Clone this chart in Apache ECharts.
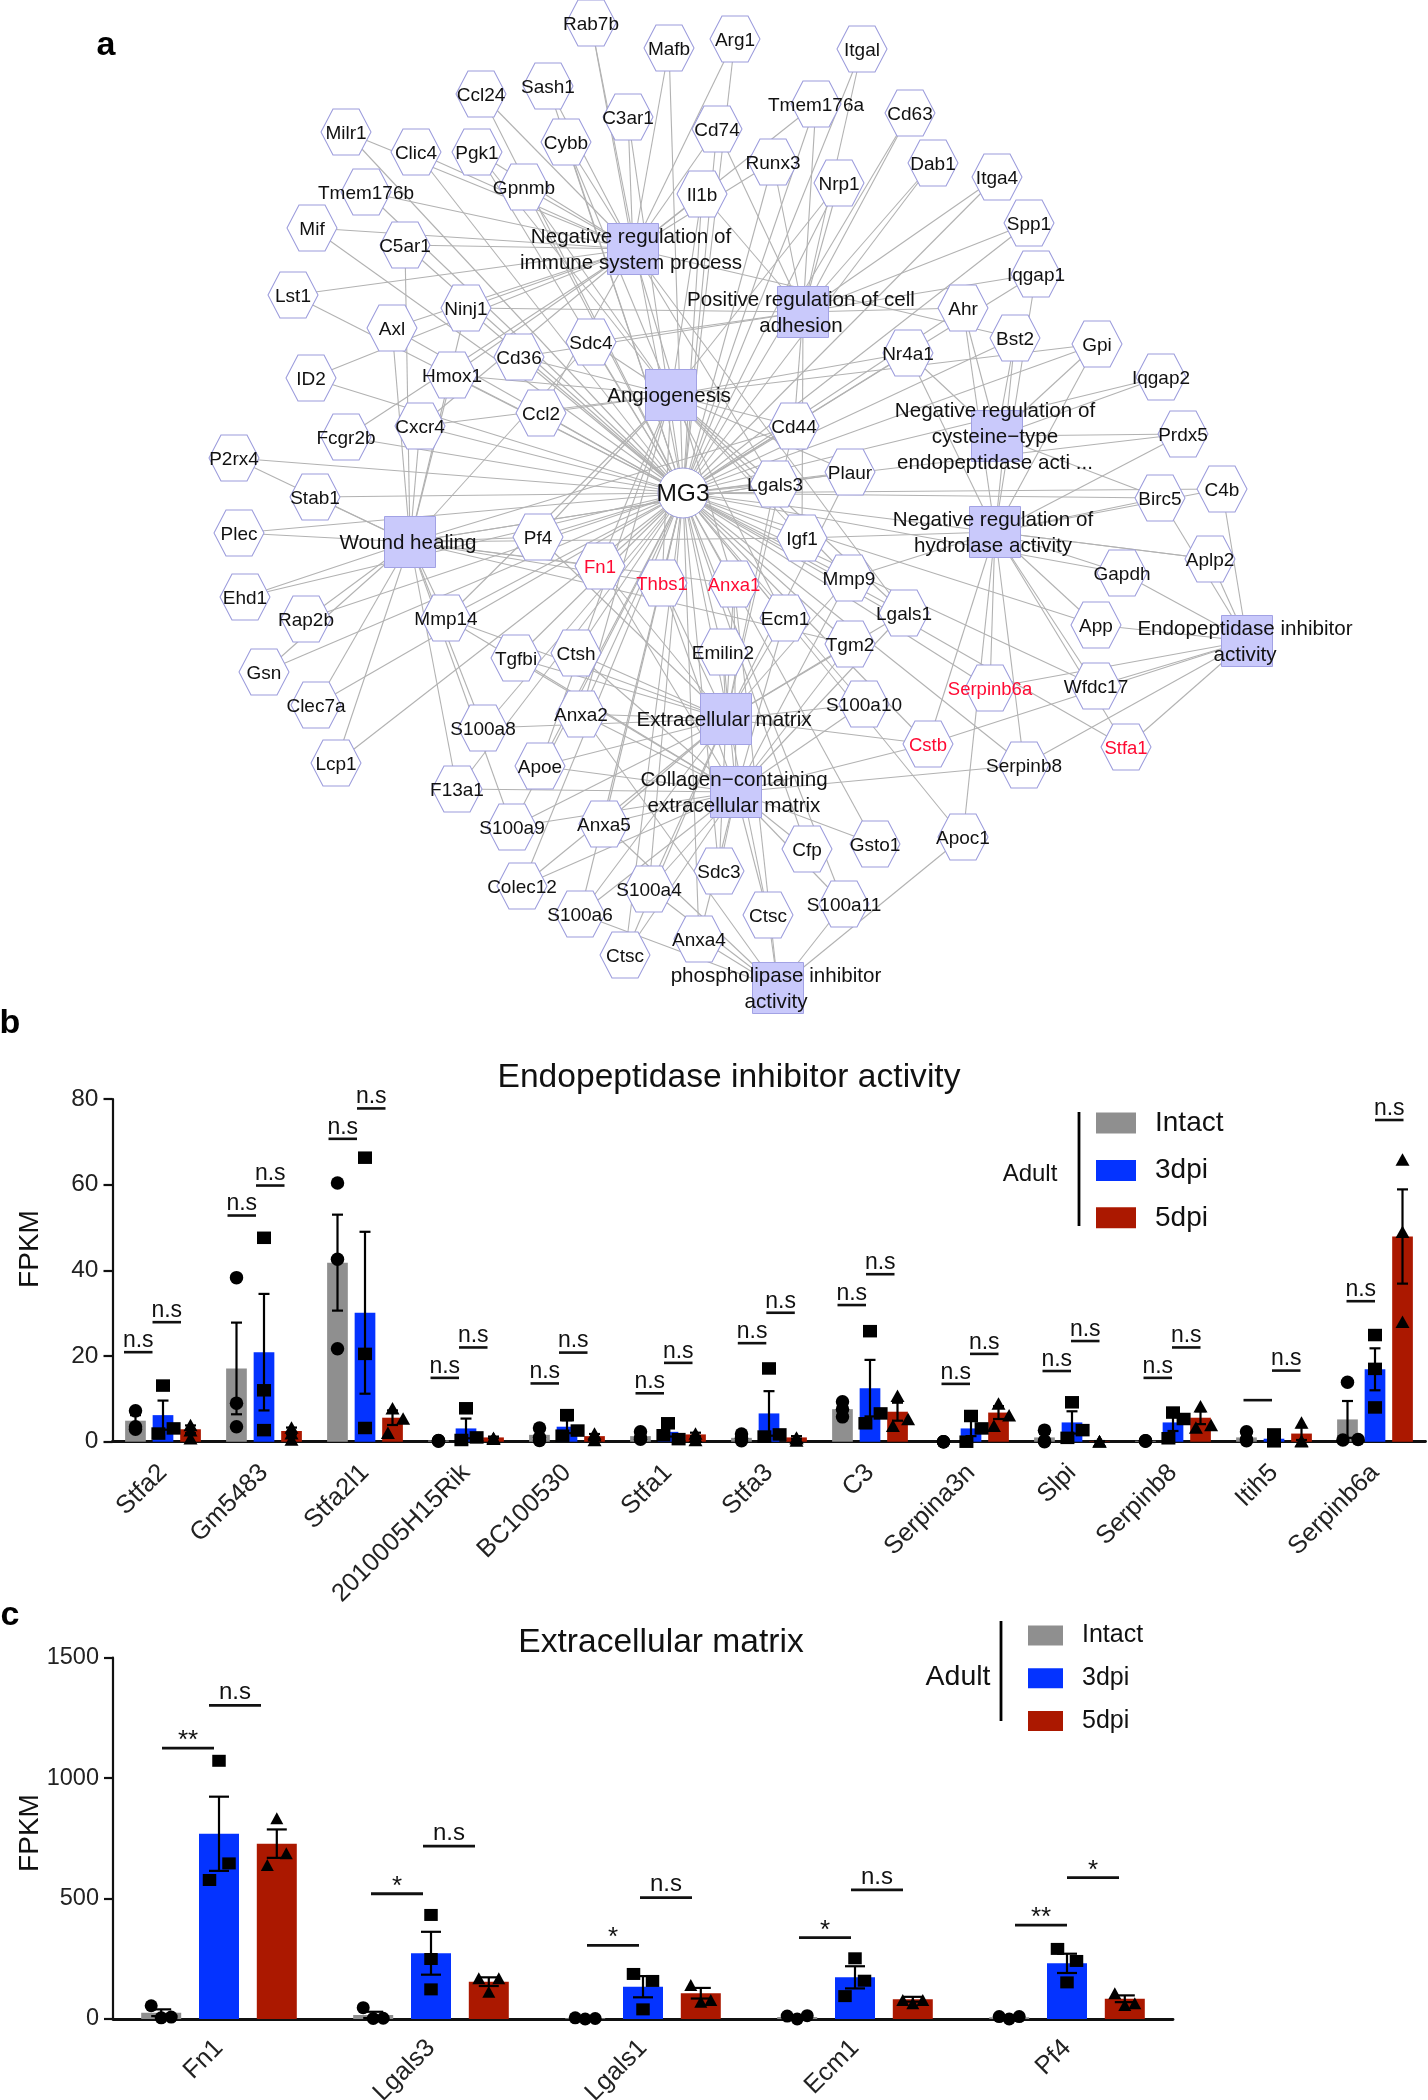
<!DOCTYPE html>
<html><head><meta charset="utf-8">
<style>html,body{margin:0;padding:0;background:#fff}#c{width:1428px;height:2100px}</style>
<script src="https://cdn.jsdelivr.net/npm/echarts@6/dist/echarts.min.js"></script>
</head><body><div id="c"></div>
<script>
// ---------- panel a: network ----------
const hubName = 'MG3';
const hubXY = [683, 493];
const termNames = ['Negative regulation of\nimmune system process','Positive regulation of cell\nadhesion','Angiogenesis','Negative regulation of\ncysteine\u2212type\nendopeptidase acti ...','Negative regulation of\nhydrolase activity','Wound healing','Extracellular matrix','Collagen\u2212containing\nextracellular matrix','phospholipase inhibitor\nactivity','Endopeptidase inhibitor\nactivity'];
const termX = [633,803,671,997,995,410,726,736,778,1247];
const termY = [249,312,395,436,532,542,719,792,988,641];
const geneNames = ['Rab7b','Mafb','Arg1','Itgal','Sash1','Ccl24','C3ar1','Cd74','Tmem176a','Cd63','Milr1','Clic4','Pgk1','Cybb','Runx3','Dab1','Itga4','Nrp1','Il1b','Gpnmb','Tmem176b','Mif','C5ar1','Spp1','Iqgap1','Lst1','Ninj1','Axl','Sdc4','Cd36','ID2','Hmox1','Ccl2','Cxcr4','Fcgr2b','P2rx4','Stab1','Ahr','Bst2','Gpi','Nr4a1','Iqgap2','Prdx5','Cd44','Plaur','Lgals3','Birc5','C4b','Plec','Pf4','Fn1','Thbs1','Anxa1','Igf1','Mmp9','Ehd1','Rap2b','Mmp14','Ecm1','Lgals1','Gapdh','Aplp2','App','Tgfbi','Ctsh','Emilin2','Tgm2','Gsn','Wfdc17','Serpinb6a','S100a10','Clec7a','Anxa2','S100a8','Cstb','Stfa1','Lcp1','Apoe','Serpinb8','F13a1','S100a9','Anxa5','Cfp','Gsto1','Apoc1','Sdc3','Colec12','S100a4','S100a6','S100a11','Ctsc','Ctsc','Anxa4'];
const geneX = [591,669,735,862,548,481,628,717,816,910,346,416,477,566,773,933,997,839,702,524,366,312,405,1029,1036,293,466,392,591,519,311,452,541,420,346,234,315,963,1015,1097,908,1161,1183,794,850,775,1160,1222,239,538,600,662,734,802,849,245,306,446,785,904,1122,1210,1096,516,576,723,850,264,1096,990,864,316,581,483,928,1126,336,540,1024,457,512,604,807,875,963,719,522,649,580,844,768,625,699];
const geneY = [23,48,39,49,86,94,117,129,104,113,132,152,152,142,162,163,177,183,194,187,192,228,245,223,274,295,308,328,342,357,378,375,413,426,437,458,497,308,338,344,353,377,434,426,472,484,498,489,533,537,566,583,584,538,578,597,619,618,618,613,573,559,625,658,653,652,644,672,686,688,704,705,714,728,744,747,763,766,765,789,827,824,849,844,837,871,886,889,914,904,915,955,939];
const highlightedGenes = ['Fn1','Thbs1','Anxa1','Serpinb6a','Cstb','Stfa1'];
const immuneGenes = ['Rab7b','Mafb','Arg1','Sash1','Ccl24','C3ar1','Cd74','Tmem176a','Milr1','Clic4','Pgk1','Cybb','Runx3','Il1b','Gpnmb','Tmem176b','Mif','C5ar1','Lst1','Ninj1','Axl','ID2','Hmox1','Ccl2','Cxcr4','Fcgr2b','Lgals3','Anxa1','Lgals1','Bst2'];
const adhesionGenes = ['Itgal','Cd74','Tmem176a','Cd63','Runx3','Dab1','Itga4','Nrp1','Il1b','Spp1','Iqgap1','Ninj1','Sdc4','Cd36','Ahr','Igf1','Cd44'];
const angioGenes = ['Pgk1','Cybb','Nrp1','Il1b','Gpnmb','Sdc4','Cd36','Hmox1','Ccl2','Cxcr4','Nr4a1','Gpi','Cd44','Plaur','Lgals3','Pf4','Fn1','Thbs1','Igf1','Mmp9','Mmp14','Ecm1','Lgals1','Anxa2','Apoe'];
const cysteineGenes = ['Ahr','Bst2','Gpi','Iqgap2','Prdx5','Birc5','Nr4a1'];
const hydrolaseGenes = ['Ahr','Bst2','Gpi','Nr4a1','Prdx5','Birc5','C4b','Igf1','Mmp9','Gapdh','Aplp2','App','Wfdc17','Serpinb6a','Stfa1','Cstb','Serpinb8','Apoc1','Iqgap1'];
const woundGenes = ['P2rx4','Stab1','Plec','Ehd1','Rap2b','Gsn','Clec7a','Lcp1','Mmp14','Pf4','Fn1','Thbs1','Anxa1','Ninj1','Axl','Hmox1','Cxcr4','Cd44','Plaur','Lgals3','Igf1','Tgm2','S100a8','F13a1','S100a9','Sdc4','C5ar1'];
const matrixGenes = ['Cd44','Plaur','Lgals3','Pf4','Fn1','Thbs1','Anxa1','Mmp9','Mmp14','Ecm1','Lgals1','Tgfbi','Ctsh','Emilin2','Tgm2','S100a10','Anxa2','S100a8','Apoe','S100a9','Anxa5','Sdc3','Colec12','S100a4','S100a6','Ctsc#2','Cstb'];
const collagenGenes = ['Fn1','Thbs1','Anxa1','Mmp9','Mmp14','Ecm1','Lgals1','Tgfbi','Ctsh','Emilin2','Tgm2','S100a10','Anxa2','Apoe','F13a1','S100a9','Anxa5','Cfp','Gsto1','Sdc3','Colec12','S100a4','S100a6','S100a11','Ctsc','Anxa4','Serpinb8','Cstb','Ctsc#2'];
const phospholipaseGenes = ['Anxa1','Anxa2','Anxa5','S100a4','S100a6','S100a11','Ctsc','Apoc1','Anxa4'];
const endopeptidaseGenes = ['C4b','Aplp2','App','Wfdc17','Serpinb6a','Stfa1','Serpinb8','Cstb','Gapdh','Birc5'];
const termMembers = [immuneGenes,adhesionGenes,angioGenes,cysteineGenes,hydrolaseGenes,woundGenes,matrixGenes,collagenGenes,phospholipaseGenes,endopeptidaseGenes];

// ---------- panel b: Endopeptidase inhibitor activity ----------
const endoGenes = ['Stfa2','Gm5483','Stfa2l1','2010005H15Rik','BC100530','Stfa1','Stfa3','C3','Serpina3n','Slpi','Serpinb8','Itih5','Serpinb6a'];
const endoIntactMean = [4.9,17.1,41.8,0.3,1.6,1.3,0.9,7.6,0,1.0,0.2,1.0,5.2];
const endoIntactSem = [1.3,10.7,11.2,0.1,0.9,0.6,0.5,1.0,0,0.8,0.05,0.6,4.3];
const endoIntactPts = [[7.2,3.5,2.9],[38.3,9,3.5],[60.4,42.6,21.7],[0.3,0.2,0.1],[3.2,1,0.3],[2.3,0.9,0.6],[1.8,0.8,0.2],[9.3,7.6,5.8],[0,0,0],[2.7,0.2,0],[0.2,0.1,0.2],[2.3,0.5,0.2],[13.9,0.4,0.5]];
const endo3dpiMean = [6.2,20.9,30.1,3.1,3.5,2.3,6.6,12.5,3.1,4.5,4.5,0.7,16.9];
const endo3dpiSem = [3.4,13.6,18.9,2.3,1.5,1.1,5.2,6.6,1.8,2.6,2.0,0.5,4.9];
const endo3dpiPts = [[13.1,1.9,3.1],[47.6,12,2.7],[66.3,20.5,3.2],[7.8,0.4,1],[6.2,1.4,2.6],[4.3,1.5,0.6],[17.1,1.2,1.7],[25.8,4.3,6.6],[6,0,3.1],[9.2,0.9,2.7],[6.8,0.8,5.3],[1.7,0.2,0.1],[24.9,17,8]];
const endo5dpiMean = [2.9,2.5,5.6,1,1.3,1.7,1,7,6.8,0.1,5.6,1.9,47.9];
const endo5dpiSem = [0.9,0.8,1.7,0.2,0.5,0.4,0.3,2.1,1.5,0.05,1.5,1.5,11];
const endo5dpiPts = [[3.9,2.7,0.8],[3.3,2,0.5],[7.8,5.4,2.1],[0.8,0.9,0.7],[1.9,1.5,0.4],[1.9,1.2,0.4],[0.8,1,0.3],[10.7,5.3,3.7],[8.9,6.2,3.7],[0.1,0.1,0.1],[8.3,3.9,3.3],[4.5,0.1,0.2],[65.9,49,28]];
const endoLeftBracket = [20.9,52.8,70.7,14.9,13.6,11.3,23,31.9,13.5,16.5,14.9,9.7,32.8];
const endoRightBracket = [27.9,59.8,77.8,22,20.8,18.4,30.1,39.1,20.5,23.5,22,16.6,75.1];
const endoLeftSig = ['n.s','n.s','n.s','n.s','n.s','n.s','n.s','n.s','n.s','n.s','n.s','','n.s'];
const endoRightSig = ['n.s','n.s','n.s','n.s','n.s','n.s','n.s','n.s','n.s','n.s','n.s','n.s','n.s'];

// ---------- panel c: Extracellular matrix ----------
const ecmGenes = ['Fn1','Lgals3','Lgals1','Ecm1','Pf4'];
const ecmIntactMean = [26,17,3,8,7];
const ecmIntactSem = [14,13,2,6,4];
const ecmIntactPts = [[55,5,8],[47,2,3],[5,0,2],[12,0,14],[10,0,10]];
const ecm3dpiMean = [769,273,134,173,231];
const ecm3dpiSem = [154,89,44,46,40];
const ecm3dpiPts = [[1072,646,577],[432,249,123],[187,158,40],[252,159,95],[291,241,152]];
const ecm5dpiMean = [728,155,107,82,84];
const ecm5dpiSem = [59,18,22,10,14];
const ecm5dpiPts = [[833,688,639],[169,169,113],[141,79,72],[79,79,65],[107,65,58]];
const ecmLeftBracket = [1125,520,306,338,390];
const ecmRightBracket = [1302,718,504,536,587];
const ecmLeftSig = ['**','*','*','*','**'];
const ecmRightSig = ['n.s','n.s','n.s','n.s','*'];

const groupNames = ['Intact','3dpi','5dpi'];
const yTicksEndo = [0,80,20];
const yTicksEcm = [0,1500,500];

// ---------- layout / style (not data) ----------
const FONT = '"Liberation Sans", Arial, sans-serif';
const groupColors = ['#8f8f8f','#0433ff','#ab1800'];
const groupSymbols = ['circle','rect','triangle'];
const z0=[0,0,0], A=[0,-4.6,10.6], B=[0,10.6,-4.6];
const endoJitter = [
  endoGenes.map((g,i)=> i===12 ? A : z0),
  endoGenes.map((g,i)=> [0,3,4,5,6,7,8,9,10].includes(i) ? A : z0),
  endoGenes.map((g,i)=> [2,7,8,10].includes(i) ? B : z0)
];
const ecmJitter = [
  ecmGenes.map(()=>[-10,0,10]),
  [[0,10,-9.5],[0,0,0],[-9.5,9.5,0],[0,9.5,-10],[-9.5,9.5,0]],
  [[0,9.5,-9.5],[-10,10,0],[-10,10,0],[-10,10,0],[-10,10,0]]
];
const endoPivot = [-10.5,-8,-8,-7,-8,-4,-2.7,-4,-1,-1,-1,-2,0];
const ecmPivotL = [-5,-8,-4,-4,0], ecmPivotR = [-10,-8,-3,-4,0];

// ---------- network nodes ----------
const HEX = 'path://M0 50 L24 0 L76 0 L100 50 L76 100 L24 100 Z';
const seen = {};
const geneIds = geneNames.map(n => { seen[n]=(seen[n]||0)+1; return seen[n]>1 ? n+'#'+seen[n] : n; });
const nodes = [];
const links = [];
const stroke = '#9c9cdc';
geneNames.forEach((n,i)=>nodes.push({
  id:geneIds[i], name:n, value:[geneX[i],geneY[i]], symbol:HEX, symbolSize:[50,46],
  itemStyle:{color:'#fff',borderColor:stroke,borderWidth:1},
  label:{show:true,position:'inside',offset:[0,1.5],color:highlightedGenes.includes(n)?'#ff0a33':'#111',fontSize:highlightedGenes.includes(n)?18.5:19,fontFamily:FONT}
}));
termNames.forEach((n,i)=>nodes.push({
  id:'term'+i, name:n, value:[termX[i],termY[i]], symbol:'rect', symbolSize:[51,51],
  itemStyle:{color:'#c9c9fb',borderColor:'#a2a2e4',borderWidth:1},
  label:{show:true,position:'inside',offset:[-2,1.5],color:'#111',fontSize:20.6,lineHeight:26,align:'center',fontFamily:FONT}
}));
nodes.push({id:'hub',name:hubName,value:hubXY,symbol:'circle',symbolSize:50,
  itemStyle:{color:'#fff',borderColor:stroke,borderWidth:1},
  label:{show:true,position:'inside',offset:[0,1],color:'#111',fontSize:24.5,fontFamily:FONT}});
geneIds.forEach(g=>links.push({source:'hub',target:g}));
termMembers.forEach((mem,t)=>mem.forEach(g=>links.push({source:'term'+t,target:g})));

// ---------- helpers for bar panels ----------
function panel(cfg){
  const out=[];
  const {idx,genes,groups,band,offs}=cfg;
  const cat=idx.cat,val=idx.val,y=idx.y;
  const pos=(i,g,j)=>i+0.5+(offs[g]+j)/band;
  groups.forEach((g,gi)=>{
    out.push({type:'bar',name:groupNames[gi],xAxisIndex:cat,yAxisIndex:y,data:g.mean,barWidth:cfg.barWidth,barGap:cfg.barGap,
      itemStyle:{color:groupColors[gi]},silent:true});
  });
  groups.forEach((g,gi)=>{
    const d=g.mean.map((m,i)=>[pos(i,gi,0),Math.max(0,m-g.sem[i]),m+g.sem[i]]);
    out.push({type:'custom',xAxisIndex:val,yAxisIndex:y,data:d,encode:{x:0,y:[1,2]},silent:true,z:3,clip:false,
      renderItem:(p,api)=>{
        const a=api.coord([api.value(0),api.value(1)]),b=api.coord([api.value(0),api.value(2)]);
        const st={stroke:'#000',lineWidth:2.2};
        const cap=cfg.cap;
        return {type:'group',children:[
          {type:'line',shape:{x1:a[0],y1:a[1],x2:b[0],y2:b[1]},style:st},
          {type:'line',shape:{x1:a[0]-cap,y1:a[1],x2:a[0]+cap,y2:a[1]},style:st},
          {type:'line',shape:{x1:b[0]-cap,y1:b[1],x2:b[0]+cap,y2:b[1]},style:st}
        ]};
      }});
  });
  groups.forEach((g,gi)=>{
    const d=[];
    g.pts.forEach((arr,i)=>arr.forEach((v,k)=>d.push([pos(i,gi,g.jit[i][k]),v])));
    out.push({type:'scatter',xAxisIndex:val,yAxisIndex:y,data:d,symbol:groupSymbols[gi],symbolSize:cfg.sym[gi],z:4,silent:true,clip:false,
      itemStyle:{color:'#000',opacity:1}});
  });
  const br=[];const labs=[];
  genes.forEach((g,i)=>{
    br.push([i+0.5+(cfg.pivL[i]-cfg.span)/band,i+0.5+cfg.pivL[i]/band,cfg.left[i]]);labs.push(cfg.leftSig[i]);
    br.push([i+0.5+cfg.pivR[i]/band,i+0.5+(cfg.pivR[i]+cfg.span)/band,cfg.right[i]]);labs.push(cfg.rightSig[i]);
  });
  out.push({type:'custom',xAxisIndex:val,yAxisIndex:y,data:br,encode:{x:[0,1],y:2},silent:true,z:5,clip:false,
    renderItem:(p,api)=>{
      const a=api.coord([api.value(0),api.value(2)]),b=api.coord([api.value(1),api.value(2)]);
      const t=labs[p.dataIndex];const isStar=t.indexOf('*')>=0;
      return {type:'group',children:[
        {type:'line',shape:{x1:a[0],y1:a[1],x2:b[0],y2:b[1]},style:{stroke:'#111',lineWidth:cfg.brW}},
        {type:'text',style:{text:t,x:(a[0]+b[0])/2,y:a[1]-(isStar?cfg.starGap:cfg.textGap),textAlign:'center',textVerticalAlign:'middle',font:(isStar?cfg.starSize:cfg.textSize)+'px '+FONT,fill:'#111'}}
      ]};
    }});
  return out;
}

const seriesB = panel({idx:{cat:1,val:2,y:1},genes:endoGenes,band:101,offs:[-27.5,0,27.5],barWidth:20.7,barGap:'33%',cap:5.5,sym:[13.5,[14,12.5],[14,12.5]],
  groups:[{mean:endoIntactMean,sem:endoIntactSem,pts:endoIntactPts,jit:endoJitter[0]},{mean:endo3dpiMean,sem:endo3dpiSem,pts:endo3dpiPts,jit:endoJitter[1]},{mean:endo5dpiMean,sem:endo5dpiSem,pts:endo5dpiPts,jit:endoJitter[2]}],
  pivL:endoPivot,pivR:endoPivot,span:28.5,left:endoLeftBracket,right:endoRightBracket,leftSig:endoLeftSig,rightSig:endoRightSig,brW:2.6,textGap:11.5,starGap:11,textSize:23,starSize:24});
const seriesC = panel({idx:{cat:3,val:4,y:2},genes:ecmGenes,band:212,offs:[-57.8,0,57.8],barWidth:40,barGap:'44.5%',cap:10,sym:[13,[13.5,12],[13,12]],
  groups:[{mean:ecmIntactMean,sem:ecmIntactSem,pts:ecmIntactPts,jit:ecmJitter[0]},{mean:ecm3dpiMean,sem:ecm3dpiSem,pts:ecm3dpiPts,jit:ecmJitter[1]},{mean:ecm5dpiMean,sem:ecm5dpiSem,pts:ecm5dpiPts,jit:ecmJitter[2]}],
  pivL:ecmPivotL,pivR:ecmPivotR,span:52,left:ecmLeftBracket,right:ecmRightBracket,leftSig:ecmLeftSig,rightSig:ecmRightSig,brW:2.8,textGap:13,starGap:7,textSize:24,starSize:26});

const catAxis=(gridIndex,data,w,margin)=>({type:'category',gridIndex,data,boundaryGap:true,position:'bottom',
  axisLine:{onZero:false,lineStyle:{color:'#111',width:w}},axisTick:{alignWithLabel:true,length:10,lineStyle:{color:'#111',width:2.2}},
  axisLabel:{interval:0,rotate:45,fontSize:25.5,fontFamily:FONT,color:'#222',margin},splitLine:{show:false}});
const hiddenX=(gridIndex,max)=>({type:'value',gridIndex,min:0,max,show:false,position:'top',splitLine:{show:false}});
const valAxis=(gridIndex,t,fs)=>({type:'value',gridIndex,min:t[0],max:t[1],interval:t[2],
  axisLine:{show:true,onZero:false,lineStyle:{color:'#111',width:2.2}},axisTick:{show:true,length:9,lineStyle:{color:'#111',width:2.2}},
  axisLabel:{fontSize:fs,fontFamily:FONT,color:'#222',margin:14,formatter:v=>String(v)},splitLine:{show:false}});

const legendCfg=(left,top,w,h,gap,fs,pad)=>({data:groupNames,orient:'vertical',left,top,itemWidth:w,itemHeight:h,itemGap:gap,icon:'rect',selectedMode:false,
  textStyle:{fontSize:fs,fontFamily:FONT,color:'#111',padding:[0,0,0,pad]}});
const txt=(text,x,y,fs,extra)=>({type:'text',x,y,silent:true,style:Object.assign({text,font:fs+'px '+FONT,fill:'#111',textAlign:'center',textVerticalAlign:'middle'},extra||{})});
const rotTxt=(text,x,y,fs)=>Object.assign(txt(text,x,y,fs),{rotation:Math.PI/2});
const vline=(x,y1,y2)=>({type:'line',silent:true,shape:{x1:x,y1:y1,x2:x,y2:y2},style:{stroke:'#000',lineWidth:2.8}});

const chart = echarts.init(document.getElementById('c'),null,{renderer:'canvas',width:1428,height:2100});
chart.setOption({
  animation:false,backgroundColor:'#fff',
  title:[
    {text:'Endopeptidase inhibitor activity',left:724,top:1056,textAlign:'center',textStyle:{fontSize:33.6,fontWeight:'normal',fontFamily:FONT,color:'#111'}},
    {text:'Extracellular matrix',left:656,top:1620.5,textAlign:'center',textStyle:{fontSize:33.6,fontWeight:'normal',fontFamily:FONT,color:'#111'}}
  ],
  legend:[legendCfg(1091,1104,40,21,19.4,28,14),legendCfg(1023,1618,35,20,17.7,25,14)],
  grid:[
    {left:0,top:0,width:1428,height:2100,outerBoundsMode:'none'},
    {left:112.5,top:1099,width:1313,height:342.7,outerBoundsMode:'none'},
    {left:113,top:1657.7,width:1060,height:361.3,outerBoundsMode:'none'}
  ],
  xAxis:[
    {type:'value',gridIndex:0,min:0,max:1428,show:false,splitLine:{show:false}},
    catAxis(1,endoGenes,2.8,27),hiddenX(1,endoGenes.length),
    catAxis(2,ecmGenes,2.8,25),hiddenX(2,ecmGenes.length)
  ],
  yAxis:[
    {type:'value',gridIndex:0,min:0,max:2100,inverse:true,show:false,splitLine:{show:false}},
    valAxis(1,yTicksEndo,24.5),valAxis(2,yTicksEcm,23.5)
  ],
  series:[{
    type:'graph',layout:'none',coordinateSystem:'cartesian2d',xAxisIndex:0,yAxisIndex:0,data:nodes,links,silent:true,roam:false,
    lineStyle:{color:'#b2b2b2',width:1.1,opacity:1,curveness:0},emphasis:{disabled:true},clip:false
  }].concat(seriesB,seriesC),
  graphic:[
    txt('a',106,46,34,{font:'bold 34px '+FONT,fill:'#000'}),
    txt('b',10,1024,34,{font:'bold 34px '+FONT,fill:'#000'}),
    txt('c',10,1616,34,{font:'bold 34px '+FONT,fill:'#000'}),
    rotTxt('FPKM',30,1249,28),rotTxt('FPKM',30,1833,28),
    txt('Adult',1030,1174,24),vline(1079,1112,1226),
    txt('Adult',958,1677,28.5),vline(1001,1621,1721)
  ]
});
</script></body></html>
